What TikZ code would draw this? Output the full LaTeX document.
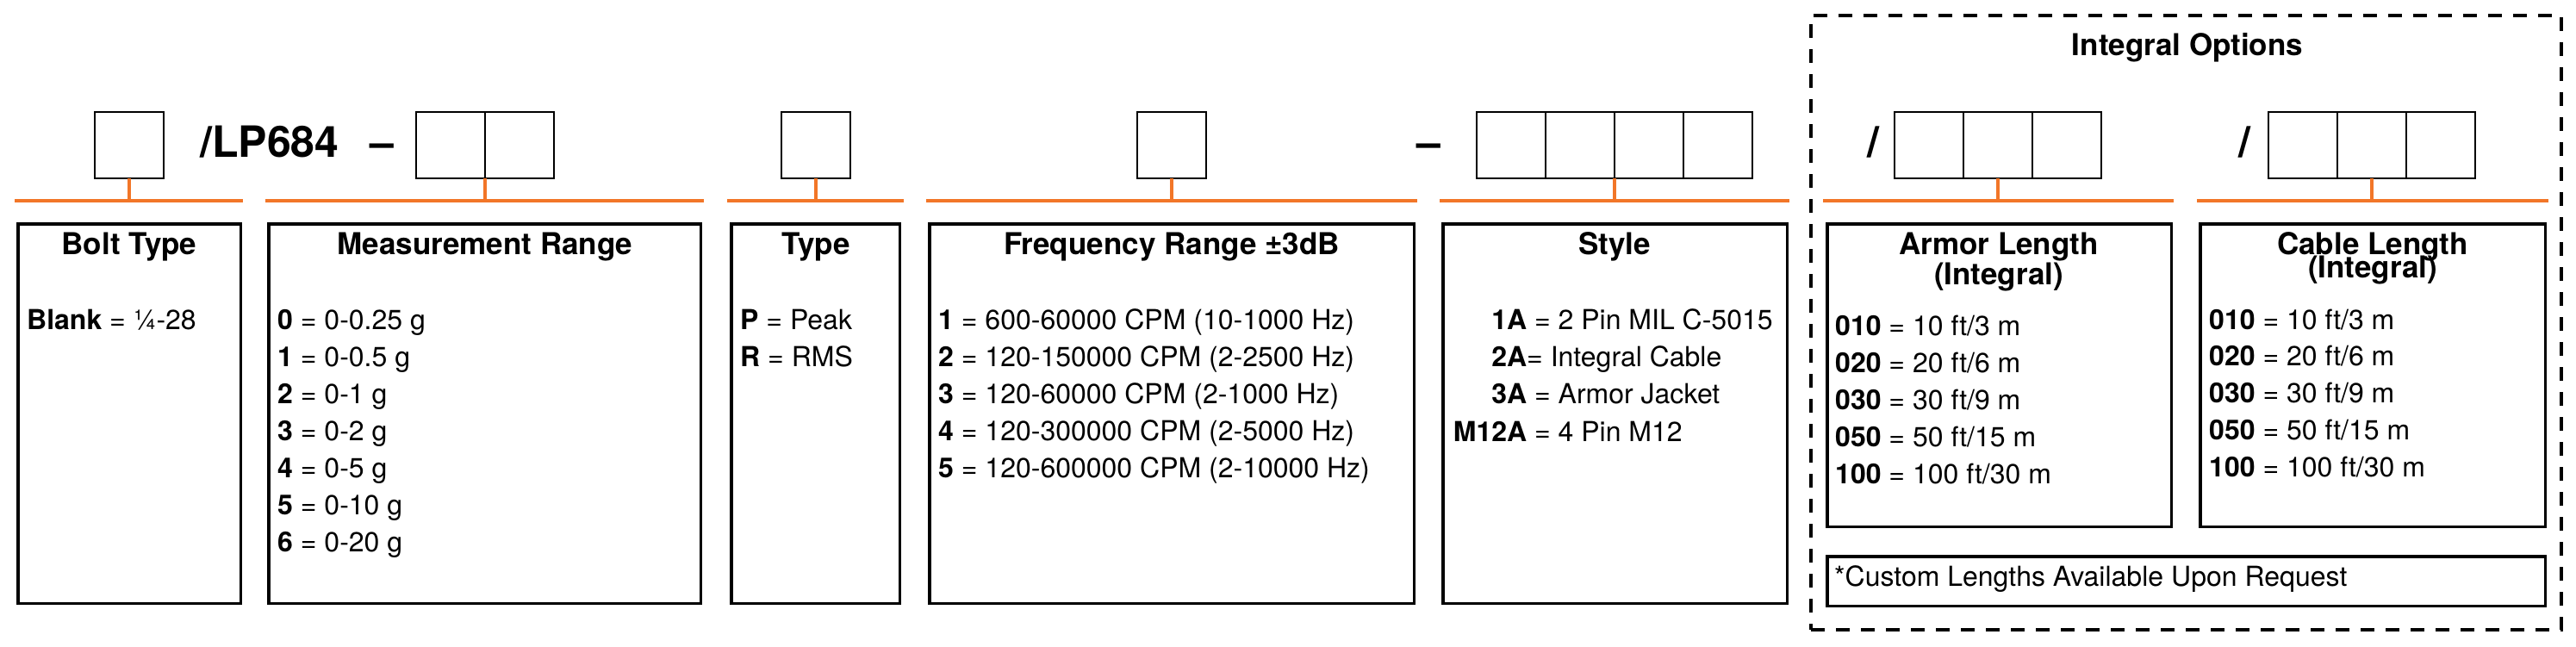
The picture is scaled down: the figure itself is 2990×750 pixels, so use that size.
\documentclass[tikz,border=0pt]{standalone}
\usepackage{fontspec}
\setmainfont{TeX Gyre Heros}
\usetikzlibrary{positioning}
\definecolor{lporange}{RGB}{242,118,40}
\tikzset{codebox/.style = {draw, line width=2pt, minimum width=80pt, minimum height=77pt,
                           inner sep=0pt, outer sep=0pt}}
\tikzset{panel/.style = {draw, line width=3.5pt, inner sep=0pt, outer sep=0pt}}
\tikzset{bar/.style = {lporange, line width=4pt}}
\tikzset{heading/.style = {font=\bfseries\fontsize{35}{40}\selectfont, anchor=base, inner sep=0pt}}
\tikzset{entry/.style = {font=\fontsize{32}{40}\selectfont, anchor=base west, inner sep=0pt}}
\tikzset{partno/.style = {font=\bfseries\fontsize{50}{60}\selectfont, anchor=base, inner sep=0pt}}

\begin{document}
\begin{tikzpicture}[x=1pt, y=-1pt]
  \useasboundingbox (0,0) rectangle (2990,750);
  % part number boxes
  \node [codebox] (bolt) at (150,168.5) {};
  \node [partno, anchor=base west] (lp) at (232,182) {/LP684};
  \node [partno] (dasha) at (443,182) {--};
  \node [codebox] (meas1) at (523,168.5) {};
  \node [codebox, right=0pt of meas1] (meas2) {};
  \node [codebox] (type) at (947,168.5) {};
  \node [codebox] (freq) at (1360,168.5) {};
  \node [partno] (dashb) at (1658,182) {--};
  \node [codebox] (style1) at (1754,168.5) {};
  \foreach \i [count=\j from 2] in {1,2,3}
    \node [codebox, right=0pt of style\i] (style\j) {};
  \node [partno] (slasha) at (2174,182) {/};
  \node [codebox] (armor1) at (2239,168.5) {};
  \node [codebox, right=0pt of armor1] (armor2) {};
  \node [codebox, right=0pt of armor2] (armor3) {};
  \node [partno] (slashb) at (2605,182) {/};
  \node [codebox] (cable1) at (2673,168.5) {};
  \node [codebox, right=0pt of cable1] (cable2) {};
  \node [codebox, right=0pt of cable2] (cable3) {};

  % orange bars
  \foreach \n/\a/\b in {bolt/17/282, meas/308/817, type/844/1049, freq/1075/1645,
                        style/1671/2077, armor/2116/2523, cable/2550/2958} {
    \coordinate (\n-l) at (\a,233);
    \coordinate (\n-r) at (\b,233);
    \draw [bar] (\n-l) -- (\n-r);
  }
  \draw [bar] (bolt.south) -- (bolt.south |- bolt-l);
  \draw [bar] (meas1.south east) -- (meas1.south east |- meas-l);
  \draw [bar] (type.south) -- (type.south |- type-l);
  \draw [bar] (freq.south) -- (freq.south |- freq-l);
  \draw [bar] (style2.south east) -- (style2.south east |- style-l);
  \draw [bar] (armor2.south) -- (armor2.south |- armor-l);
  \draw [bar] (cable2.south) -- (cable2.south |- cable-l);

  % panels
  \node [panel, minimum width=258.5pt, minimum height=440.5pt] (boltpanel) at (150,480) {};
  \node [panel, minimum width=501.5pt, minimum height=440.5pt] (measpanel) at (562.5,480) {};
  \node [panel, minimum width=195.5pt, minimum height=440.5pt] (typepanel) at (946.5,480) {};
  \node [panel, minimum width=562.5pt, minimum height=440.5pt] (freqpanel) at (1360,480) {};
  \node [panel, minimum width=399.5pt, minimum height=440.5pt] (stylepanel) at (1874.5,480) {};
  \node [panel, minimum width=399.5pt, minimum height=351.5pt] (armorpanel) at (2320.5,435.5) {};
  \node [panel, minimum width=400.5pt, minimum height=351.5pt] (cablepanel) at (2754,435.5) {};
  \node [panel, minimum width=833.5pt, minimum height=57.5pt] (custompanel) at (2537.5,674.5) {};
  \node [draw, line width=4pt, dash pattern=on 16pt off 13pt, minimum width=871pt,
         minimum height=713pt, inner sep=0pt] (integral) at (2537.5,374.5) {};

  % headings
  \node [heading] (integraltitle) at (2539,64) {Integral Options};
  \node [heading] (bolttitle) at (150,295) {Bolt Type};
  \node [heading] (meastitle) at (563,295) {Measurement Range};
  \node [heading] (typetitle) at (947,295) {Type};
  \node [heading] (freqtitle) at (1360,295) {Frequency Range ±3dB};
  \node [heading] (styletitle) at (1874,295) {Style};
  \node [heading] (armortitle) at (2320,295) {Armor Length};
  \node [heading] (armorsub) at (2320,330) {(Integral)};
  \node [heading] (cabletitle) at (2754,295) {Cable Length};
  \node [heading] (cablesub) at (2754,322) {(Integral)};

  % entries
  \node [entry] (bolt-blank) at (31,382) {\textbf{Blank} = ¼-28};
  \foreach \c/\v [count=\i from 0] in {0/0-0.25 g, 1/0-0.5 g, 2/0-1 g, 3/0-2 g,
                                       4/0-5 g, 5/0-10 g, 6/0-20 g}
    \node [entry] (meas-\c) at (322,{382+43*\i}) {\textbf{\c} = \v};
  \node [entry] (type-p) at (859,382) {\textbf{P} = Peak};
  \node [entry] (type-r) at (859,425) {\textbf{R} = RMS};
  \foreach \c/\v [count=\i from 0] in {1/{600-60000 CPM (10-1000 Hz)},
                                       2/{120-150000 CPM (2-2500 Hz)},
                                       3/{120-60000 CPM (2-1000 Hz)},
                                       4/{120-300000 CPM (2-5000 Hz)},
                                       5/{120-600000 CPM (2-10000 Hz)}}
    \node [entry] (freq-\c) at (1089,{382+43*\i}) {\textbf{\c} = \v};
  \node [entry] (style-1a) at (1772,382) {\llap{\textbf{1A}} = 2 Pin MIL C-5015};
  \node [entry] (style-2a) at (1772,425) {\llap{\textbf{2A}}= Integral Cable};
  \node [entry] (style-3a) at (1772,468) {\llap{\textbf{3A}} = Armor Jacket};
  \node [entry] (style-m12a) at (1772,512) {\llap{\textbf{M12A}} = 4 Pin M12};
  \foreach \c/\v [count=\i from 0] in {010/{10 ft/3 m}, 020/{20 ft/6 m}, 030/{30 ft/9 m},
                                       050/{50 ft/15 m}, 100/{100 ft/30 m}} {
    \node [entry] (armor-\c) at (2130,{389+43.2*\i}) {\textbf{\c} = \v};
    \node [entry] (cable-\c) at (2564,{382+42.8*\i}) {\textbf{\c} = \v};
  }
  \node [entry] (custom) at (2129,680) {*Custom Lengths Available Upon Request};
\end{tikzpicture}
\end{document}
